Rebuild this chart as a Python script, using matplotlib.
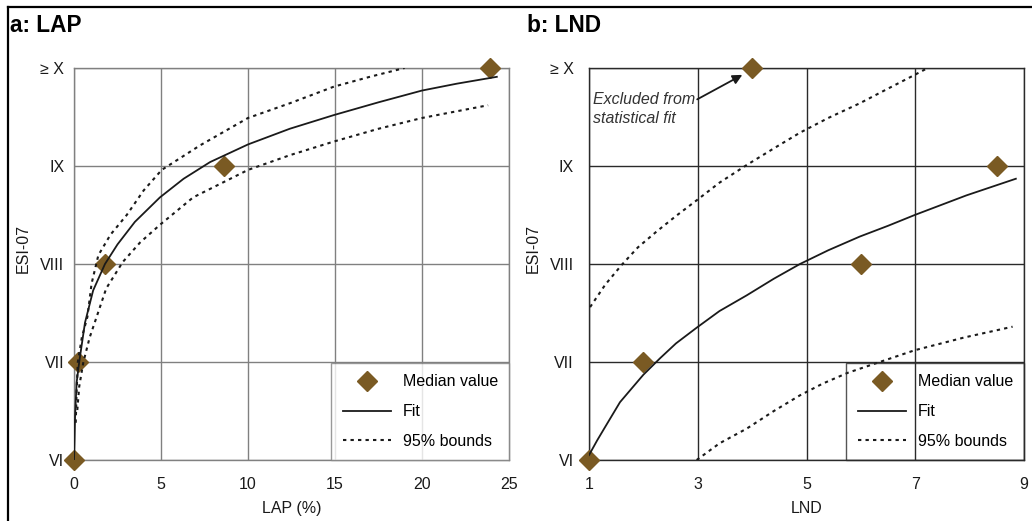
import matplotlib
matplotlib.use("Agg")
import matplotlib.pyplot as plt
from matplotlib.lines import Line2D

plt.rcParams['font.family'] = ['Liberation Sans', 'DejaVu Sans']
plt.rcParams['font.size'] = 11.5

# valores
esi_labels = ["VI", "VII", "VIII", "IX", "\u2265 X"]
esi_levels = [6, 7, 8, 9, 10]

# a: LAP
lap_med_x = [0.0, 0.25, 1.8, 8.6, 23.9]
lap_med_y = [6, 7, 8, 9, 10]
lap_fit_x = [0.0, 0.03, 0.06, 0.15, 0.3, 0.63, 1.1, 1.78, 2.5, 3.5, 4.94, 6.3, 7.82, 10.0, 12.4, 14.94, 17.5, 20.0, 22.0, 24.3]
lap_fit_y = [6.0, 6.2, 6.44, 6.79, 7.0, 7.40, 7.73, 8.0, 8.2, 8.43, 8.68, 8.87, 9.04, 9.22, 9.38, 9.52, 9.65, 9.77, 9.84, 9.91]
lap_up_x = [0.1, 0.15, 0.22, 0.45, 0.77, 1.01, 1.40, 2.1, 3.03, 4.0, 5.04, 7.24, 10.0, 12.4, 14.94, 17.0, 19.0]
lap_up_y = [6.38, 6.7, 7.0, 7.25, 7.46, 7.80, 8.09, 8.3, 8.50, 8.75, 8.96, 9.21, 9.49, 9.64, 9.81, 9.91, 10.0]
lap_lo_x = [0.19, 0.3, 0.54, 0.9, 1.30, 1.85, 2.8, 3.8, 4.94, 6.85, 10.0, 12.4, 14.94, 17.5, 20.0, 23.8]
lap_lo_y = [6.51, 6.75, 7.0, 7.25, 7.46, 7.75, 8.02, 8.22, 8.40, 8.68, 8.96, 9.11, 9.25, 9.38, 9.49, 9.62]

# b: LND
lnd_med_x = [1.0, 2.0, 4.0, 6.0, 8.5]
lnd_med_y = [6, 7, 10, 8, 9]
lnd_fit_x = [1.0, 1.15, 1.3, 1.57, 1.8, 2.0, 2.31, 2.6, 2.98, 3.4, 3.90, 4.4, 4.88, 5.4, 5.98, 6.5, 6.99, 7.94, 8.85]
lnd_fit_y = [6.05, 6.2, 6.34, 6.59, 6.74, 6.87, 7.04, 7.19, 7.35, 7.52, 7.68, 7.85, 8.0, 8.14, 8.28, 8.39, 8.5, 8.70, 8.87]
lnd_up_x = [1.02, 1.3, 1.60, 1.9, 2.24, 2.6, 2.98, 3.4, 3.90, 4.4, 4.88, 5.4, 5.98, 6.5, 6.99, 7.23]
lnd_up_y = [7.56, 7.79, 7.99, 8.17, 8.33, 8.49, 8.65, 8.83, 9.01, 9.18, 9.34, 9.49, 9.64, 9.79, 9.93, 10.0]
lnd_lo_x = [2.98, 3.4, 3.90, 4.4, 4.88, 5.3, 5.76, 6.4, 6.99, 7.9, 8.79]
lnd_lo_y = [6.0, 6.17, 6.32, 6.5, 6.66, 6.78, 6.89, 7.01, 7.12, 7.25, 7.36]

brown = "#7a5a23"
W, H = 1032, 521

fig = plt.figure(figsize=(W / 100, H / 100), dpi=100)
ax_a = fig.add_axes([74 / W, 1 - 460 / H, 435 / W, 392 / H])
ax_b = fig.add_axes([589 / W, 1 - 460 / H, 435 / W, 392 / H])

dots = (0, (1.6, 2.0))


def panel(ax, gcol, xs, my, fx, fy, ux, uy, lx, ly, ypad):
    ax.grid(True, color=gcol, lw=1.0, zorder=0)
    ax.set_axisbelow(True)
    for s in ax.spines.values():
        s.set_color(gcol)
        s.set_linewidth(1.0)
    ax.plot(xs, my, ls="none", marker="D", ms=10, color=brown,
            clip_on=False, zorder=4, label="Median value")
    ax.plot(fx, fy, color="#1a1a1a", lw=1.3, zorder=5, label="Fit")
    ax.plot(ux, uy, color="#1a1a1a", lw=1.5, ls=dots, zorder=5,
            label="95% bounds")
    ax.plot(lx, ly, color="#1a1a1a", lw=1.5, ls=dots, zorder=5)
    ax.set_ylim(6, 10)
    ax.set_yticks(esi_levels)
    ax.set_yticklabels(esi_labels)
    ax.tick_params(length=0, labelsize=11.5, colors="#1a1a1a")
    ax.tick_params(axis="x", pad=12)
    ax.tick_params(axis="y", pad=ypad)
    ax.set_ylabel("ESI-07", fontsize=11.5, color="#1a1a1a")
    leg = ax.legend(loc="lower right", borderaxespad=0, fancybox=False,
                    handlelength=3.0, handletextpad=0.75, borderpad=0.7,
                    labelspacing=0.92, fontsize=11.5, edgecolor=gcol)
    leg.get_frame().set_linewidth(1.0)
    return leg


panel(ax_a, "#808080", lap_med_x, lap_med_y, lap_fit_x, lap_fit_y,
      lap_up_x, lap_up_y, lap_lo_x, lap_lo_y, 7)
ax_a.set_xlim(0, 25)
ax_a.set_xticks([0, 5, 10, 15, 20, 25])
ax_a.set_xlabel("LAP (%)", fontsize=11.5, color="#1a1a1a")
ax_a.xaxis.set_label_coords(0.5, -0.105)
ax_a.yaxis.set_label_coords(-0.10, 0.54)

leg_b = panel(ax_b, "#2a2a2a", lnd_med_x, lnd_med_y, lnd_fit_x, lnd_fit_y,
              lnd_up_x, lnd_up_y, lnd_lo_x, lnd_lo_y, 11)
leg_b.get_frame().set_facecolor("none")
ax_b.set_xlim(1, 9)
ax_b.set_xticks([1, 3, 5, 7, 9])
ax_b.set_xlabel("LND", fontsize=11.5, color="#1a1a1a")
ax_b.xaxis.set_label_coords(0.5, -0.105)
ax_b.yaxis.set_label_coords(-0.112, 0.54)

ax_b.text(1.07, 9.58, "Excluded from\nstatistical fit", fontsize=11.5, style="italic",
          color="#333333", ha="left", va="center", linespacing=1.3)
ax_b.annotate("", xy=(3.82, 9.93), xytext=(2.99, 9.68),
              arrowprops=dict(arrowstyle="-|>", color="#1a1a1a", lw=1.3,
                              mutation_scale=14, shrinkA=0, shrinkB=0))

# títulos de los paneles
fig.text(10 / W, 1 - 32 / H, "a: LAP", fontsize=16.3, fontweight="bold", va="baseline")
fig.text(527 / W, 1 - 32 / H, "b: LND", fontsize=16.3, fontweight="bold", va="baseline")

# marco exterior
fig.add_artist(Line2D([7.5 / W, 7.5 / W], [0, 1 - 7 / H], color="black", lw=1.6))
fig.add_artist(Line2D([7.5 / W, 1.0], [1 - 7 / H, 1 - 7 / H], color="black", lw=1.6))

fig.savefig("out.png", dpi=100)
